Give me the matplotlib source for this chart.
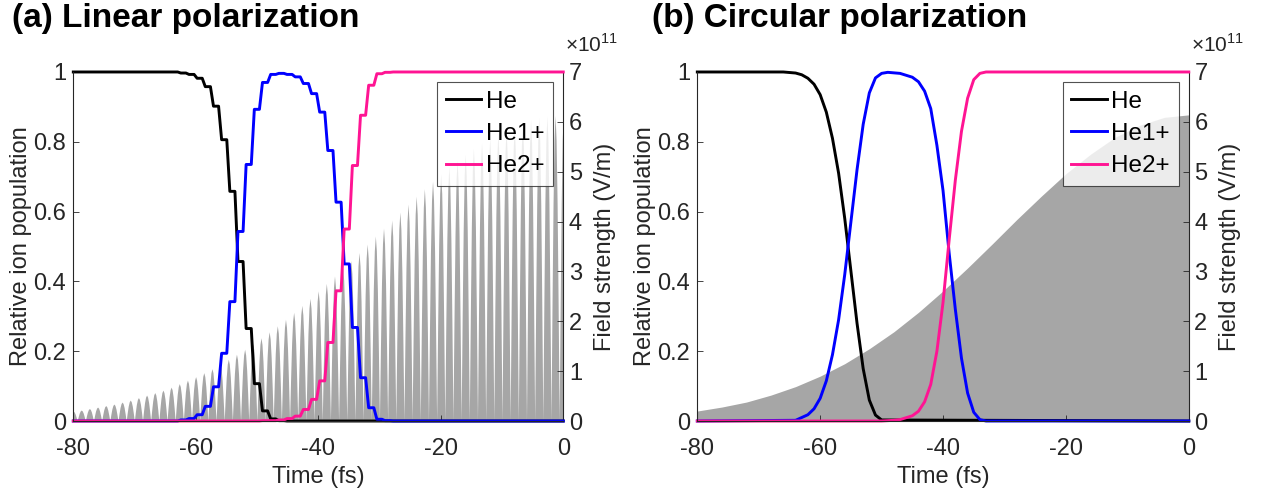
import numpy as np
import matplotlib
matplotlib.use("Agg")
import matplotlib.pyplot as plt

plt.rcParams['font.family'] = ['Liberation Sans', 'DejaVu Sans']
plt.rcParams['axes.unicode_minus'] = False
plt.rcParams['mathtext.fontset'] = 'custom'
plt.rcParams['mathtext.rm'] = 'Liberation Sans'

# ---- linear polarization ----
# |E| peaks every half optical cycle, heights in 1e11 V/m (from t = -80 fs to 0)
halfCycle = 1.334
linPeakTimes = np.arange(-60, 1) * halfCycle
linPeakField = [0.20, 0.22, 0.25, 0.28, 0.31, 0.34, 0.38, 0.42, 0.47, 0.52,
                0.57, 0.62, 0.68, 0.75, 0.82, 0.89, 0.97, 1.05, 1.14, 1.24,
                1.34, 1.44, 1.55, 1.67, 1.79, 1.91, 2.04, 2.18, 2.32, 2.46,
                2.61, 2.76, 2.91, 3.07, 3.22, 3.38, 3.55, 3.71, 3.87, 4.03,
                4.19, 4.35, 4.51, 4.66, 4.81, 4.96, 5.10, 5.23, 5.35, 5.47,
                5.58, 5.68, 5.78, 5.86, 5.93, 5.99, 6.05, 6.09, 6.12, 6.13, 6.14]

# ionization steps happen at the field peaks; levels after each step
linStepTimes = [-62.70, -61.36, -60.03, -58.70, -57.36, -56.03, -54.69, -53.36, -52.03,
                -50.69, -49.36, -48.02, -46.69, -45.36, -44.02, -42.69, -41.35, -40.02,
                -38.69, -37.35, -36.02, -34.68, -33.35, -32.02, -30.68, -29.35, -28.02]
linHe = [0.997, 0.993, 0.982, 0.958, 0.902, 0.806, 0.658, 0.457, 0.265,
         0.107, 0.029, 0.006, 0.001, 0, 0, 0, 0, 0,
         0, 0, 0, 0, 0, 0, 0, 0, 0]
linHe1 = [0.003, 0.007, 0.018, 0.042, 0.098, 0.194, 0.342, 0.543, 0.735,
          0.893, 0.970, 0.993, 0.996, 0.993, 0.986, 0.967, 0.938, 0.885,
          0.775, 0.627, 0.450, 0.268, 0.124, 0.038, 0.005, 0.001, 0]
linHe2 = [0, 0, 0, 0, 0, 0, 0, 0, 0,
          0, 0.001, 0.001, 0.003, 0.007, 0.014, 0.033, 0.062, 0.115,
          0.225, 0.373, 0.550, 0.732, 0.876, 0.962, 0.995, 0.999, 1.0]

# ---- circular polarization ----
circFieldTime = [-80, -76, -72, -68, -64, -60, -56, -52, -48, -44, -40,
                 -36, -32, -28, -24, -20, -16, -12, -8, -4, 0]
circField = [0.20, 0.28, 0.38, 0.52, 0.69, 0.90, 1.15, 1.45, 1.79, 2.18, 2.61,
             3.07, 3.55, 4.04, 4.51, 4.96, 5.35, 5.69, 5.93, 6.09, 6.14]

circHeTime = [-80, -66, -64, -63, -62, -61, -60, -59, -58, -57, -56,
              -55, -54, -53, -52, -51, -50, 0]
circHe = [1, 1, 0.997, 0.992, 0.982, 0.965, 0.935, 0.885, 0.81, 0.71, 0.58,
          0.43, 0.28, 0.15, 0.06, 0.017, 0.003, 0]

circHe1Time = [-80, -64, -62, -61, -60, -59, -58, -57, -56, -55, -54, -53, -52,
               -51, -50, -49, -47, -45, -44, -43, -42, -41, -40, -39, -38,
               -37, -36, -35, -34, -33, 0]
circHe1 = [0, 0.002, 0.018, 0.035, 0.065, 0.115, 0.19, 0.29, 0.42, 0.57, 0.72, 0.85, 0.94,
           0.983, 0.996, 0.999, 0.996, 0.985, 0.972, 0.945, 0.895, 0.79, 0.66, 0.48, 0.32,
           0.18, 0.08, 0.025, 0.004, 0, 0]

circHe2Time = [-80, -50, -48, -47, -45, -44, -43, -42, -41, -40, -39,
               -38, -37, -36, -35, -34, -33, 0]
circHe2 = [0, 0, 0.002, 0.004, 0.015, 0.028, 0.055, 0.105, 0.20, 0.34, 0.52,
           0.69, 0.83, 0.925, 0.978, 0.996, 1.0, 1.0]

lineColors = {'He': '#000000', 'He1+': '#0000ff', 'He2+': '#ff1493'}
fieldColor = '#a6a6a6'
axisColor = '#262626'

# outline of one carrier lobe (fractions of half cycle / of peak height)
lobeOffsets = np.array([-0.5, -0.375, -0.25, -0.125, 0, 0.125, 0.25, 0.375, 0.5])
lobeShape = np.array([0, 0.38, 0.71, 0.92, 1, 0.92, 0.71, 0.38, 0])


def stepCurve(times, levels, start, width=0.5):
    x = [-80]
    y = [start]
    prev = start
    for t, v in zip(times, levels):
        x += [t - width / 2, t + width / 2]
        y += [prev, v]
        prev = v
    x.append(0)
    y.append(prev)
    return x, y


def setupPanel(ax, axR, title, xTitle):
    ax.set_xlim(-80, 0)
    ax.set_ylim(0, 1)
    axR.set_ylim(0, 7)
    ax.set_xticks([-80, -60, -40, -20, 0])
    ax.set_yticks([0, 0.2, 0.4, 0.6, 0.8, 1])
    ax.set_yticklabels(['0', '0.2', '0.4', '0.6', '0.8', '1'])
    axR.set_yticks(range(8))
    for a in (ax, axR):
        a.spines['top'].set_visible(False)
        for s in a.spines.values():
            s.set_color(axisColor)
            s.set_linewidth(0.8)
    ax.spines['right'].set_visible(False)
    axR.spines['left'].set_visible(False)
    axR.spines['bottom'].set_visible(False)
    ax.tick_params(axis='both', direction='in', length=4, width=0.6,
                   colors=axisColor, labelsize=17, pad=5)
    ax.tick_params(axis='x', pad=12)
    axR.tick_params(axis='y', direction='in', length=4, width=0.6,
                    colors=axisColor, labelsize=17, pad=4)
    ax.set_xlabel('Time (fs)', fontsize=17, color=axisColor)
    ax.xaxis.label.set_va('center')
    ax.xaxis.set_label_coords(0.5, -0.16)
    ax.set_ylabel('Relative ion population', fontsize=17, color=axisColor)
    ax.yaxis.set_label_coords(-0.085, 0.5)
    axR.set_ylabel('Field strength (V/m)', fontsize=17, color=axisColor)
    axR.yaxis.set_label_coords(1.062, 0.5)
    axR.text(1.004, 1.045, r'$\times10^{11}$', transform=axR.transAxes,
             ha='left', va='bottom', fontsize=15, color=axisColor)
    # lines on top of the field fill
    ax.set_zorder(axR.get_zorder() + 1)
    ax.patch.set_visible(False)
    ax.figure.text(xTitle, 0.945, title, fontsize=24, fontweight='bold',
                   ha='left', va='baseline')
    leg = ax.legend(loc='upper right', fontsize=17.5, frameon=True, fancybox=False,
                    handlelength=1.45, handletextpad=0.2, borderpad=0.35,
                    labelspacing=0.42, borderaxespad=0.42)
    leg.get_frame().set_edgecolor(axisColor)
    leg.get_frame().set_linewidth(0.8)


fig = plt.figure(figsize=(12.66, 4.92), dpi=100)

# (a) linear
axA = fig.add_axes([0.0579, 0.1443, 0.387, 0.7094])
axAR = axA.twinx()
lobeX = (linPeakTimes[:, None] + lobeOffsets[None, :] * halfCycle).ravel()
lobeY = (np.array(linPeakField)[:, None] * lobeShape[None, :]).ravel()
axAR.fill_between(lobeX, 0, lobeY, color=fieldColor, linewidth=0)
for name, levels, start in (('He', linHe, 1.0), ('He1+', linHe1, 0.0), ('He2+', linHe2, 0.0)):
    x, y = stepCurve(linStepTimes, levels, start)
    axA.plot(x, y, color=lineColors[name], lw=2.1, label=name, clip_on=False)
setupPanel(axA, axAR, '(a) Linear polarization', 0.0095)

# (b) circular
axB = fig.add_axes([0.5508, 0.1443, 0.3882, 0.7094])
axBR = axB.twinx()
axBR.fill_between(circFieldTime, 0, circField, color=fieldColor, linewidth=0)
axB.plot(circHeTime, circHe, color=lineColors['He'], lw=2.1, label='He', clip_on=False)
axB.plot(circHe1Time, circHe1, color=lineColors['He1+'], lw=2.1, label='He1+', clip_on=False)
axB.plot(circHe2Time, circHe2, color=lineColors['He2+'], lw=2.1, label='He2+', clip_on=False)
setupPanel(axB, axBR, '(b) Circular polarization', 0.515)

fig.savefig('out.png', dpi=100)
